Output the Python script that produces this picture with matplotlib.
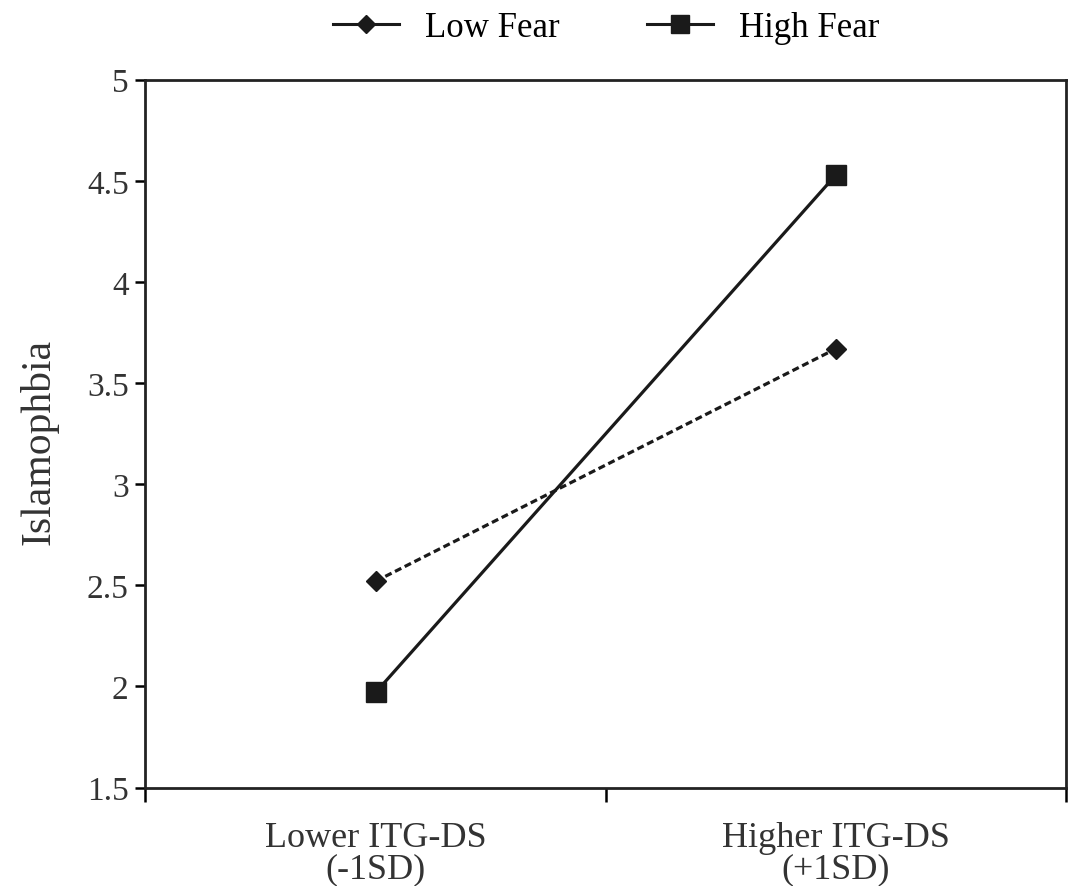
import matplotlib.pyplot as plt
import numpy as np
from matplotlib.lines import Line2D

categories = ["Lower ITG-DS\n(-1SD)", "Higher ITG-DS\n(+1SD)"]
low_fear = [2.52, 3.67]
high_fear = [1.97, 4.53]
y_ticks = [1.5, 2, 2.5, 3, 3.5, 4, 4.5, 5]
y_tick_labels = ["1.5", "2", "2.5", "3", "3.5", "4", "4.5", "5"]

plt.rcParams['font.family'] = ['Liberation Serif', 'DejaVu Serif']
plt.rcParams['font.size'] = 24

fig = plt.figure(figsize=(10.77, 8.87), dpi=100)
ax = fig.add_axes([0.135, 0.111, 0.855, 0.798])

x = np.arange(len(categories)) + 0.5
ax.plot(x, low_fear, color='#1a1a1a', linestyle=(0, (2.2, 1.2)), linewidth=2.3,
        marker='D', markersize=10)
ax.plot(x, high_fear, color='#1a1a1a', linestyle='-', linewidth=2.3,
        marker='s', markersize=15)

ax.set_xlim(0, len(categories))
ax.set_ylim(1.5, 5)
ax.set_yticks(y_ticks)
ax.set_yticklabels(y_tick_labels, color='#333333', fontsize=24)

ax.set_xticks(np.arange(len(categories) + 1))
ax.set_xticklabels([])
ax.set_xticks(x, minor=True)
ax.set_xticklabels(categories, minor=True, color='#333333', fontsize=26, linespacing=0.92)
ax.tick_params(axis='x', which='minor', length=0, pad=24)
ax.tick_params(axis='x', which='major', length=10, width=1.8, direction='out')
ax.tick_params(axis='y', length=7, width=1.8, direction='out', pad=5)

for s in ax.spines.values():
    s.set_linewidth(2)
    s.set_color('#222222')

ax.set_ylabel("Islamophbia", fontsize=30, color='#333333')
ax.yaxis.set_label_coords(-0.094, 0.49)

handles = [
    Line2D([], [], color='#1a1a1a', linewidth=2.2, marker='D', markersize=9),
    Line2D([], [], color='#1a1a1a', linewidth=2.2, marker='s', markersize=13),
]
fig.legend(handles, ["Low Fear", "High Fear"], loc='center', bbox_to_anchor=(0.563, 0.968),
           ncol=2, frameon=False, handlelength=1.9, columnspacing=2.5, fontsize=25,
           handletextpad=0.75)

fig.savefig("out.png", dpi=100, facecolor='white')
